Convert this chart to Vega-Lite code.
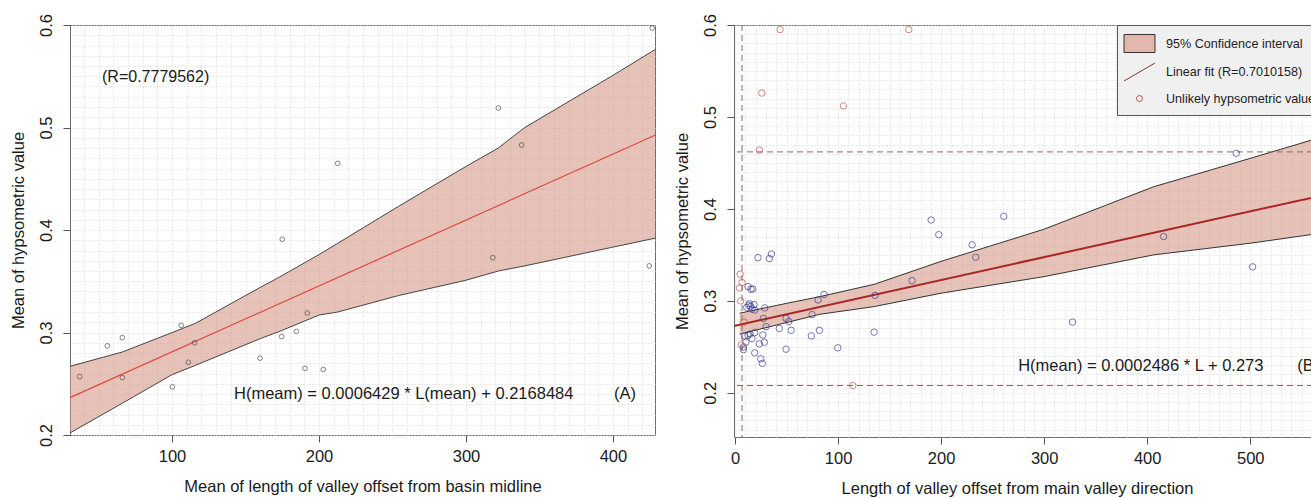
{
  "$schema": "https://vega.github.io/schema/vega-lite/v6.json",
  "padding": {"left": 9, "top": 13, "right": 0, "bottom": 0},
  "background": "white",
  "spacing": 15,
  "config": {
    "font": "Liberation Sans",
    "view": {"stroke": "#6e6e6e", "strokeWidth": 1},
    "axis": {
      "labelFont": "Liberation Sans", "labelFontSize": 16.5, "labelColor": "#1a1a1a",
      "titleFont": "Liberation Sans", "titleFontSize": 16.5, "titleFontWeight": "normal", "titleColor": "#1a1a1a",
      "tickColor": "#555555", "tickSize": 7, "domain": false,
      "grid": true, "gridColor": "#989898", "gridDash": [2, 2], "gridWidth": 1
    },
    "legend": {
      "orient": "none", "legendX": 383, "legendY": 0,
      "fillColor": "#f0f0f0", "strokeColor": "#555555", "padding": 9, "rowPadding": 5.5,
      "symbolSize": 324, "symbolOffset": 4, "labelOffset": 17, "labelLimit": 400,
      "labelFont": "Liberation Sans", "labelFontSize": 12.6, "labelColor": "#222222"
    }
  },
  "datasets": {
    "ptsA": [
      {"L": 37.2, "H": 0.257}, {"L": 56, "H": 0.287}, {"L": 66.2, "H": 0.295}, {"L": 66.2, "H": 0.256},
      {"L": 100.2, "H": 0.247}, {"L": 106.3, "H": 0.307}, {"L": 111.1, "H": 0.271}, {"L": 115.4, "H": 0.29},
      {"L": 159.9, "H": 0.275}, {"L": 174.6, "H": 0.296}, {"L": 175, "H": 0.391}, {"L": 184.6, "H": 0.301},
      {"L": 190.5, "H": 0.265}, {"L": 192, "H": 0.319}, {"L": 202.9, "H": 0.264}, {"L": 212.7, "H": 0.465},
      {"L": 318.2, "H": 0.373}, {"L": 322, "H": 0.519}, {"L": 337.9, "H": 0.483}, {"L": 424.7, "H": 0.365},
      {"L": 426.7, "H": 0.597}
    ],
    "bandA": [
      {"L": 30.6, "hi": 0.267, "lo": 0.202}, {"L": 66.2, "hi": 0.281, "lo": 0.231},
      {"L": 100.2, "hi": 0.3, "lo": 0.259}, {"L": 116, "hi": 0.309, "lo": 0.268},
      {"L": 160, "hi": 0.344, "lo": 0.294}, {"L": 173, "hi": 0.354, "lo": 0.301},
      {"L": 200, "hi": 0.376, "lo": 0.317}, {"L": 212.7, "hi": 0.387, "lo": 0.32},
      {"L": 254, "hi": 0.423, "lo": 0.336}, {"L": 300, "hi": 0.462, "lo": 0.351},
      {"L": 322, "hi": 0.48, "lo": 0.36}, {"L": 340, "hi": 0.5, "lo": 0.365},
      {"L": 399, "hi": 0.55, "lo": 0.383}, {"L": 428.6, "hi": 0.576, "lo": 0.392}
    ],
    "fitA": [{"L": 30.6, "H": 0.2365}, {"L": 428.6, "H": 0.4924}],
    "ptsB": [
      {"L": 486.4, "H": 0.4605}, {"L": 190.3, "H": 0.388}, {"L": 260.8, "H": 0.392}, {"L": 197.7, "H": 0.372},
      {"L": 230.1, "H": 0.361}, {"L": 233.6, "H": 0.3475}, {"L": 415.9, "H": 0.37}, {"L": 502.3, "H": 0.337},
      {"L": 171.8, "H": 0.322}, {"L": 135.9, "H": 0.306}, {"L": 86.4, "H": 0.307}, {"L": 80.6, "H": 0.301},
      {"L": 74.8, "H": 0.285}, {"L": 81.9, "H": 0.268}, {"L": 74.1, "H": 0.262}, {"L": 135, "H": 0.266},
      {"L": 327.5, "H": 0.277}, {"L": 99.7, "H": 0.249}, {"L": 54.4, "H": 0.268}, {"L": 43, "H": 0.27},
      {"L": 49.5, "H": 0.2475}, {"L": 52.1, "H": 0.2775}, {"L": 49.5, "H": 0.281}, {"L": 27.5, "H": 0.281},
      {"L": 30.1, "H": 0.272}, {"L": 28.8, "H": 0.2924}, {"L": 26.9, "H": 0.263}, {"L": 28.5, "H": 0.255},
      {"L": 23.6, "H": 0.2533}, {"L": 19.1, "H": 0.2435}, {"L": 25, "H": 0.237}, {"L": 26.5, "H": 0.232},
      {"L": 22.3, "H": 0.347}, {"L": 33.3, "H": 0.346}, {"L": 35.3, "H": 0.351}, {"L": 12.6, "H": 0.3155},
      {"L": 15.5, "H": 0.3127}, {"L": 17.2, "H": 0.313}, {"L": 13.3, "H": 0.295}, {"L": 15.2, "H": 0.294},
      {"L": 11.4, "H": 0.293}, {"L": 18.4, "H": 0.296}, {"L": 19.1, "H": 0.29}, {"L": 14, "H": 0.297},
      {"L": 16.5, "H": 0.291}, {"L": 19.1, "H": 0.2655}, {"L": 16.5, "H": 0.259}, {"L": 9.4, "H": 0.262},
      {"L": 12.6, "H": 0.2627}, {"L": 14.5, "H": 0.264}, {"L": 8.1, "H": 0.25}, {"L": 8.1, "H": 0.247},
      {"L": 10.5, "H": 0.255}
    ],
    "redB": [
      {"L": 43.7, "H": 0.595}, {"L": 168.6, "H": 0.595}, {"L": 25.9, "H": 0.526}, {"L": 105.2, "H": 0.512},
      {"L": 23.6, "H": 0.464}, {"L": 114.3, "H": 0.208}, {"L": 4.9, "H": 0.329}, {"L": 6.8, "H": 0.32},
      {"L": 4.2, "H": 0.314}, {"L": 5.5, "H": 0.3}, {"L": 8.7, "H": 0.277}, {"L": 6.1, "H": 0.252}
    ],
    "bandB": [
      {"L": 4.5, "hi": 0.2866, "lo": 0.2638}, {"L": 40, "hi": 0.295, "lo": 0.2737},
      {"L": 82.5, "hi": 0.3047, "lo": 0.2855}, {"L": 135, "hi": 0.318, "lo": 0.2938},
      {"L": 200, "hi": 0.343, "lo": 0.3084}, {"L": 300, "hi": 0.378, "lo": 0.3264},
      {"L": 406, "hi": 0.424, "lo": 0.35}, {"L": 500, "hi": 0.455, "lo": 0.3627},
      {"L": 590, "hi": 0.485, "lo": 0.377}
    ],
    "fitB": [{"L": -1, "H": 0.2728}, {"L": 590, "H": 0.4197}],
    "limitsB": [{"H": 0.462}, {"H": 0.208}],
    "vlimB": [{"L": 6.8}]
  },
  "resolve": {"scale": {"x": "independent", "y": "independent", "shape": "independent"}},
  "hconcat": [
    {
      "width": 585,
      "height": 410,
      "resolve": {"axis": {"x": "independent", "y": "independent"}},
      "layer": [
        {
          "data": {"name": "bandA"},
          "mark": {"type": "area", "color": "#d2907e", "opacity": 0.55},
          "encoding": {
            "x": {"field": "L", "type": "quantitative", "scale": {"domain": [30.6, 428.6], "nice": false, "zero": false},
                  "axis": {"orient": "top", "tickCount": 40, "labels": false, "ticks": false, "domain": false, "title": null, "gridColor": "#d9d9d9", "gridDash": [1, 2], "minExtent": 0, "maxExtent": 0}},
            "y": {"field": "hi", "type": "quantitative", "scale": {"domain": [0.2, 0.6], "nice": false, "zero": false},
                  "axis": {"orient": "right", "tickCount": 40, "labels": false, "ticks": false, "domain": false, "title": null, "gridColor": "#d9d9d9", "gridDash": [1, 2], "minExtent": 0, "maxExtent": 0}},
            "y2": {"field": "lo"}
          }
        },
        {
          "data": {"name": "bandA"},
          "mark": {"type": "line", "color": "#444444", "strokeWidth": 1},
          "encoding": {"x": {"field": "L", "type": "quantitative", "axis": null}, "y": {"field": "hi", "type": "quantitative", "axis": null}}
        },
        {
          "data": {"name": "bandA"},
          "mark": {"type": "line", "color": "#444444", "strokeWidth": 1},
          "encoding": {"x": {"field": "L", "type": "quantitative", "axis": null}, "y": {"field": "lo", "type": "quantitative", "axis": null}}
        },
        {
          "data": {"name": "fitA"},
          "mark": {"type": "line", "color": "#e0473f", "strokeWidth": 1.2},
          "encoding": {"x": {"field": "L", "type": "quantitative", "axis": null}, "y": {"field": "H", "type": "quantitative", "axis": null}}
        },
        {
          "data": {"name": "ptsA"},
          "mark": {"type": "point", "shape": "circle", "filled": false, "color": "#4d4d4d", "size": 22, "strokeWidth": 1},
          "encoding": {
            "x": {"field": "L", "type": "quantitative",
                  "axis": {"orient": "bottom", "values": [100, 200, 300, 400], "format": "d", "labelPadding": 6, "titlePadding": 14, "title": "Mean of length of valley offset from basin midline"}},
            "y": {"field": "H", "type": "quantitative",
                  "axis": {"orient": "left", "values": [0.2, 0.3, 0.4, 0.5, 0.6], "format": ".1f", "labelAngle": -90, "labelAlign": "center", "labelBaseline": "bottom", "labelPadding": 9, "minExtent": 34, "maxExtent": 34, "titlePadding": 10, "title": "Mean of hypsometric value"}}
          }
        },
        {
          "data": {"values": [{}]},
          "mark": {"type": "text", "align": "left", "baseline": "middle", "fontSize": 16, "color": "#1a1a1a"},
          "encoding": {"x": {"datum": 52.4, "type": "quantitative", "axis": null}, "y": {"datum": 0.5495, "type": "quantitative", "axis": null}, "text": {"value": "(R=0.7779562)"}}
        },
        {
          "data": {"values": [{}]},
          "mark": {"type": "text", "align": "left", "baseline": "middle", "fontSize": 16.5, "color": "#1a1a1a"},
          "encoding": {"x": {"datum": 142.2, "type": "quantitative", "axis": null}, "y": {"datum": 0.2398, "type": "quantitative", "axis": null}, "text": {"value": "H(meam) = 0.0006429 * L(mean) + 0.2168484"}}
        },
        {
          "data": {"values": [{}]},
          "mark": {"type": "text", "align": "left", "baseline": "middle", "fontSize": 16.5, "color": "#1a1a1a"},
          "encoding": {"x": {"datum": 400.7, "type": "quantitative", "axis": null}, "y": {"datum": 0.2398, "type": "quantitative", "axis": null}, "text": {"value": "(A)"}}
        }
      ]
    },
    {
      "width": 609,
      "height": 412,
      "resolve": {"axis": {"x": "independent", "y": "independent"}},
      "layer": [
        {
          "data": {"name": "bandB"},
          "mark": {"type": "area", "color": "#d2907e", "opacity": 0.55},
          "encoding": {
            "x": {"field": "L", "type": "quantitative", "scale": {"domain": [-1, 590], "nice": false, "zero": false},
                  "axis": {"orient": "top", "tickCount": 60, "labels": false, "ticks": false, "domain": false, "title": null, "gridColor": "#d9d9d9", "gridDash": [1, 2], "minExtent": 0, "maxExtent": 0}},
            "y": {"field": "hi", "type": "quantitative", "scale": {"domain": [0.152, 0.6], "nice": false, "zero": false},
                  "axis": {"orient": "right", "tickCount": 45, "labels": false, "ticks": false, "domain": false, "title": null, "gridColor": "#d9d9d9", "gridDash": [1, 2], "minExtent": 0, "maxExtent": 0}},
            "y2": {"field": "lo"}
          }
        },
        {
          "data": {"name": "bandB"},
          "mark": {"type": "line", "color": "#333333", "strokeWidth": 1},
          "encoding": {"x": {"field": "L", "type": "quantitative", "axis": null}, "y": {"field": "hi", "type": "quantitative", "axis": null}}
        },
        {
          "data": {"name": "bandB"},
          "mark": {"type": "line", "color": "#333333", "strokeWidth": 1},
          "encoding": {"x": {"field": "L", "type": "quantitative", "axis": null}, "y": {"field": "lo", "type": "quantitative", "axis": null}}
        },
        {
          "data": {"name": "limitsB"},
          "mark": {"type": "rule", "color": "#8a6a62", "strokeDash": [6, 4], "strokeWidth": 1},
          "encoding": {"y": {"field": "H", "type": "quantitative", "axis": null}}
        },
        {
          "data": {"name": "vlimB"},
          "mark": {"type": "rule", "color": "#8a6a62", "strokeDash": [6, 4], "strokeWidth": 1},
          "encoding": {"x": {"field": "L", "type": "quantitative", "axis": null}}
        },
        {
          "data": {"name": "fitB"},
          "mark": {"type": "line", "color": "#ad2424", "strokeWidth": 2},
          "encoding": {
            "x": {"field": "L", "type": "quantitative", "axis": null},
            "y": {"field": "H", "type": "quantitative", "axis": null}
          }
        },
        {
          "data": {"name": "ptsB"},
          "mark": {"type": "point", "shape": "circle", "filled": false, "color": "#3c3c96", "size": 42, "strokeWidth": 1},
          "encoding": {
            "x": {"field": "L", "type": "quantitative",
                  "axis": {"orient": "bottom", "values": [0, 100, 200, 300, 400, 500], "format": "d", "labelPadding": 6, "titlePadding": 14, "titleX": 283, "title": "Length of valley offset from main valley direction"}},
            "y": {"field": "H", "type": "quantitative",
                  "axis": {"orient": "left", "values": [0.2, 0.3, 0.4, 0.5, 0.6], "format": ".1f", "labelAngle": -90, "labelAlign": "center", "labelBaseline": "bottom", "labelPadding": 9, "minExtent": 34, "maxExtent": 34, "titlePadding": 10, "title": "Mean of hypsometric value"}}
          }
        },
        {
          "data": {"name": "redB"},
          "mark": {"type": "point", "filled": false, "color": "#c0504d", "size": 42, "strokeWidth": 1},
          "encoding": {
            "x": {"field": "L", "type": "quantitative", "axis": null},
            "y": {"field": "H", "type": "quantitative", "axis": null},
            "shape": {
              "datum": "Unlikely hypsometric value", "type": "nominal",
              "scale": {"domain": ["95% Confidence interval", "Linear fit (R=0.7010158)", "Unlikely hypsometric value"], "range": ["M-1.72,-1L1.72,-1L1.72,1L-1.72,1Z", "M-1.72,1L1.72,-1", "circle"]},
              "legend": {
                "title": null,
                "encoding": {
                  "symbols": {
                    "fill": {"value": {"expr": "datum.value === '95% Confidence interval' ? '#e3b8ac' : 'transparent'"}},
                    "stroke": {"value": {"expr": "datum.value === '95% Confidence interval' ? '#333333' : (datum.value === 'Linear fit (R=0.7010158)' ? '#8b3030' : '#c0504d')"}},
                    "size": {"value": {"expr": "datum.value === 'Unlikely hypsometric value' ? 36 : 324"}},
                    "strokeWidth": {"value": 1},
                    "opacity": {"value": 1},
                    "fillOpacity": {"value": 1},
                    "strokeOpacity": {"value": 1}
                  }
                }
              }
            }
          }
        },
        {
          "data": {"values": [{}]},
          "mark": {"type": "text", "align": "left", "baseline": "middle", "fontSize": 16.5, "color": "#1a1a1a"},
          "encoding": {"x": {"datum": 274.8, "type": "quantitative", "axis": null}, "y": {"datum": 0.2293, "type": "quantitative", "axis": null}, "text": {"value": "H(mean) = 0.0002486 * L + 0.273"}}
        },
        {
          "data": {"values": [{}]},
          "mark": {"type": "text", "align": "left", "baseline": "middle", "fontSize": 16.5, "color": "#1a1a1a"},
          "encoding": {"x": {"datum": 545.6, "type": "quantitative", "axis": null}, "y": {"datum": 0.2293, "type": "quantitative", "axis": null}, "text": {"value": "(B)"}}
        }
      ]
    }
  ]
}
